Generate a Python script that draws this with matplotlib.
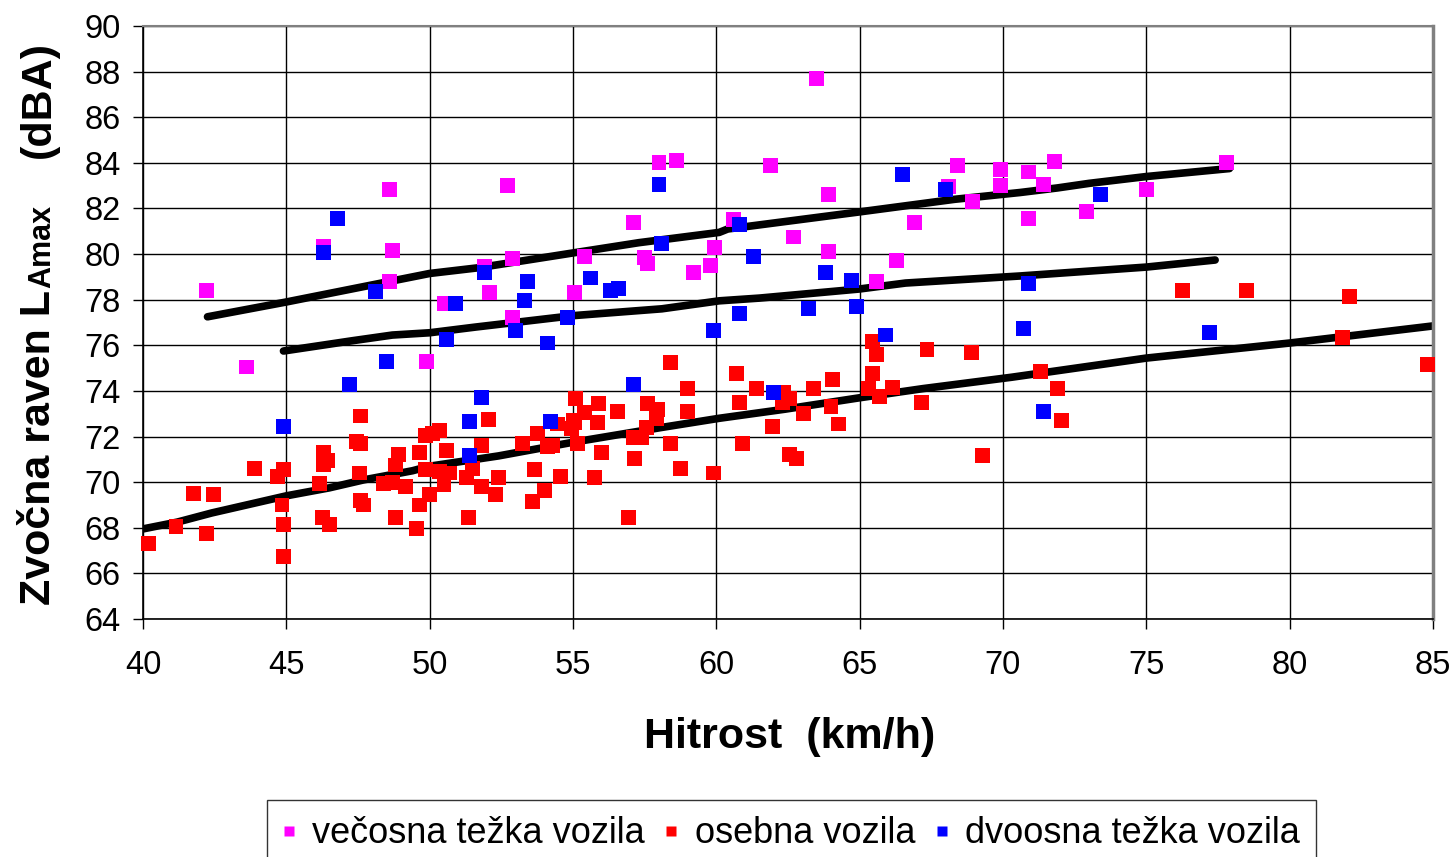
import matplotlib
matplotlib.use('Agg')
import matplotlib.pyplot as plt
from matplotlib.lines import Line2D

plt.rcParams['font.family'] = ['Liberation Sans', 'DejaVu Sans']

# ---------------- data ----------------
series_names = ['večosna težka vozila', 'osebna vozila', 'dvoosna težka vozila']
series_colors = ['#FF00FF', '#FF0000', '#0000FF']

vec_x = [42.2, 43.6, 46.3, 48.6, 48.7, 48.6, 49.9, 50.5, 52.7, 51.9, 52.1, 52.9, 52.9, 55.05,
         55.4, 57.1, 57.5, 57.6, 58.0, 58.6, 59.2, 59.8, 59.95, 60.6, 61.9, 62.7, 63.5, 63.9,
         63.9, 65.6, 66.3, 66.9, 68.1, 68.4, 68.95, 69.9, 69.9, 70.9, 70.9, 71.4, 71.8, 72.9,
         75.0, 77.8]
vec_y = [78.4, 75.05, 80.35, 82.85, 80.15, 78.8, 75.3, 77.85, 83.0, 79.45, 78.3, 79.8, 77.2, 78.3,
         79.9, 81.4, 79.85, 79.6, 84.0, 84.1, 79.2, 79.5, 80.3, 81.5, 83.9, 80.75, 87.7, 82.6,
         80.1, 78.8, 79.7, 81.4, 82.95, 83.9, 82.3, 83.7, 83.0, 83.6, 81.55, 83.05, 84.05, 81.85,
         82.85, 84.0]

dvo_x = [44.9, 46.3, 46.8, 47.2, 48.1, 48.5, 50.6, 50.9, 51.4, 51.4, 51.8, 51.9, 53.0, 53.3,
         53.4, 54.1, 54.2, 54.8, 55.6, 56.3, 56.6, 57.1, 58.0, 58.1, 59.9, 60.8, 60.8, 61.3,
         62.0, 63.2, 63.8, 64.7, 64.9, 65.9, 66.5, 68.0, 70.7, 70.9, 71.4, 73.4, 77.2]
dvo_y = [72.45, 80.05, 81.55, 74.3, 78.35, 75.3, 76.25, 77.85, 72.65, 71.15, 73.7, 79.2, 76.65, 77.95,
         78.8, 76.1, 72.65, 77.2, 78.95, 78.4, 78.5, 74.3, 83.05, 80.45, 76.65, 81.3, 77.4, 79.9,
         73.95, 77.6, 79.2, 78.85, 77.7, 76.45, 83.5, 82.85, 76.75, 78.7, 73.1, 82.6, 76.55]

ose_x = [40.2, 41.15, 41.75, 42.45, 42.2, 43.9, 44.7, 44.9, 44.85, 44.9, 44.9, 46.15, 46.3, 46.45,
         46.3, 46.25, 46.5, 47.6, 47.45, 47.6, 47.55, 47.6, 47.7, 48.8, 48.9, 48.8, 48.4, 48.7,
         49.15, 49.55, 49.65, 49.65, 49.85, 50.0, 49.85, 50.1, 50.35, 50.6, 50.5, 50.35, 50.7,
         51.3, 51.35, 51.5, 51.8, 51.8, 52.05, 52.4, 52.3, 53.25, 53.65, 53.6, 53.75, 54.0, 54.1,
         54.3, 54.55, 54.45, 55.1, 55.0, 54.95, 55.15, 55.4, 55.05, 55.85, 55.9, 56.0, 55.75,
         56.55, 56.95, 57.15, 57.1, 57.4, 57.6, 57.95, 57.9, 57.55, 58.4, 59.0, 59.0, 58.4, 58.75,
         59.9, 60.7, 60.8, 60.9, 61.4, 61.95, 62.35, 62.55, 62.3, 63.05, 62.55, 62.8, 63.4, 64.05,
         64.0, 64.25, 65.45, 65.6, 65.45, 65.3, 65.7, 66.15, 67.35, 67.15, 68.9, 69.3, 71.3, 71.9,
         72.05, 76.25, 78.5, 82.1, 81.85, 84.8]
ose_y = [67.3, 68.05, 69.5, 69.45, 67.75, 70.6, 70.25, 70.55, 69.0, 68.15, 66.75, 69.95, 71.3, 70.95,
         70.75, 68.45, 68.15, 72.9, 71.8, 71.7, 70.4, 69.2, 69.0, 68.45, 71.2, 70.75, 69.95, 70.0,
         69.8, 67.95, 71.3, 69.0, 70.55, 69.45, 72.05, 72.15, 72.25, 71.4, 69.9, 70.45, 70.4,
         70.2, 68.45, 70.6, 71.6, 69.8, 72.75, 70.2, 69.45, 71.7, 70.55, 69.15, 72.15, 69.65, 71.55,
         71.6, 70.25, 72.55, 73.65, 72.7, 72.35, 71.7, 73.05, 72.6, 72.6, 73.45, 71.3, 70.2,
         73.1, 68.45, 71.05, 71.95, 71.95, 73.45, 73.2, 72.8, 72.4, 75.25, 74.1, 73.1, 71.7, 70.6,
         70.4, 74.75, 73.5, 71.7, 74.1, 72.45, 73.95, 73.65, 73.5, 73.0, 71.2, 71.05, 74.1, 74.5,
         73.3, 72.55, 76.15, 75.6, 74.75, 74.1, 73.75, 74.15, 75.8, 73.5, 75.7, 71.15, 74.85, 74.1,
         72.7, 78.4, 78.4, 78.15, 76.35, 75.15]

# trend lines
trend_vec_x = [42.25, 45.0, 50.0, 51.7, 55.0, 57.3, 60.1, 60.4, 65.0, 68.3, 70.6, 71.9, 73.0, 75.0, 77.9]
trend_vec_y = [77.25, 77.9, 79.15, 79.4, 80.05, 80.5, 80.95, 81.1, 81.85, 82.4, 82.7, 82.9, 83.1, 83.4, 83.75]

trend_dvo_x = [44.9, 47.3, 48.7, 50.0, 51.6, 55.0, 58.1, 60.1, 61.5, 65.0, 66.6, 70.6, 75.0, 77.4]
trend_dvo_y = [75.75, 76.2, 76.45, 76.55, 76.8, 77.3, 77.6, 77.95, 78.07, 78.47, 78.73, 79.04, 79.43, 79.74]

trend_ose_x = [40.0, 41.2, 42.4, 45.0, 46.5, 47.7, 49.4, 50.0, 52.4, 55.0, 58.1, 60.1, 62.4, 65.0,
               67.2, 70.3, 75.0, 80.0, 85.0]
trend_ose_y = [67.95, 68.25, 68.65, 69.4, 69.75, 70.1, 70.5, 70.7, 71.15, 71.75, 72.4, 72.8, 73.2, 73.7,
               74.1, 74.6, 75.44, 76.1, 76.85]

x_ticks = [40, 45, 50, 55, 60, 65, 70, 75, 80, 85]
y_ticks = [64, 66, 68, 70, 72, 74, 76, 78, 80, 82, 84, 86, 88, 90]

# ---------------- figure ----------------
W, H = 1454, 857
fig = plt.figure(figsize=(W / 100, H / 100), dpi=100)
ax = fig.add_axes([143 / W, 1 - 619 / H, (1433 - 143) / W, (619 - 26) / H])

ax.set_xlim(40, 85)
ax.set_ylim(64, 90)
ax.set_xticks(x_ticks)
ax.set_yticks(y_ticks)

ax.grid(True, color='black', linewidth=1.0)
ax.set_axisbelow(True)

for tx, ty in [(trend_vec_x, trend_vec_y), (trend_dvo_x, trend_dvo_y), (trend_ose_x, trend_ose_y)]:
    ax.plot(tx, ty, color='black', linewidth=5.5, solid_capstyle='round', solid_joinstyle='round', zorder=2)

msize = 115
ax.scatter(vec_x, vec_y, marker='s', s=msize, color=series_colors[0], edgecolors='none', zorder=3, clip_on=False)
ax.scatter(ose_x, ose_y, marker='s', s=msize, color=series_colors[1], edgecolors='none', zorder=4, clip_on=False)
ax.scatter(dvo_x, dvo_y, marker='s', s=msize, color=series_colors[2], edgecolors='none', zorder=5, clip_on=False)

for side in ['left', 'bottom']:
    ax.spines[side].set_color('black')
    ax.spines[side].set_linewidth(1.2)
ax.spines['top'].set_color('#808080')
ax.spines['top'].set_linewidth(1.5)
ax.spines['right'].set_color('#808080')
ax.spines['right'].set_linewidth(2.5)

ax.tick_params(axis='both', direction='out', length=7, width=1, colors='black', labelsize=23.5)
ax.tick_params(axis='x', pad=15)
ax.tick_params(axis='y', pad=9)

# x label
fig.text(790 / W, 1 - 748 / H, 'Hitrost  (km/h)', ha='center', va='baseline',
         fontsize=31, fontweight='bold')

# y label built from pieces (big L, smaller "Amax")
fig.canvas.draw()
renderer = fig.canvas.get_renderer()
xb = 50 / W
t1 = fig.text(xb, 1 - 605 / H, 'Zvočna raven L', rotation=90, rotation_mode='anchor',
              ha='left', va='baseline', fontsize=31, fontweight='bold')
bb = t1.get_window_extent(renderer)
y2 = bb.y1 / (H) + 2 / H
fig.text(xb, y2, 'Amax', rotation=90, rotation_mode='anchor',
         ha='left', va='baseline', fontsize=22, fontweight='bold')
fig.text(xb, 1 - 158 / H, '(dBA)', rotation=90, rotation_mode='anchor',
         ha='left', va='baseline', fontsize=31, fontweight='bold')

# legend
handles = [Line2D([0], [0], marker='s', linestyle='none', markersize=7,
                  markerfacecolor=c, markeredgecolor='none') for c in series_colors]
leg = fig.legend(handles, series_names, loc='upper left', bbox_to_anchor=(267 / W, 1 - 800 / H),
                 ncol=3, fontsize=26, frameon=True, fancybox=False, edgecolor='black',
                 borderpad=0.45, handlelength=0.3, handletextpad=0.5, columnspacing=0.58,
                 borderaxespad=0)
leg.get_frame().set_linewidth(1.0)

fig.savefig('out.png', dpi=100)
